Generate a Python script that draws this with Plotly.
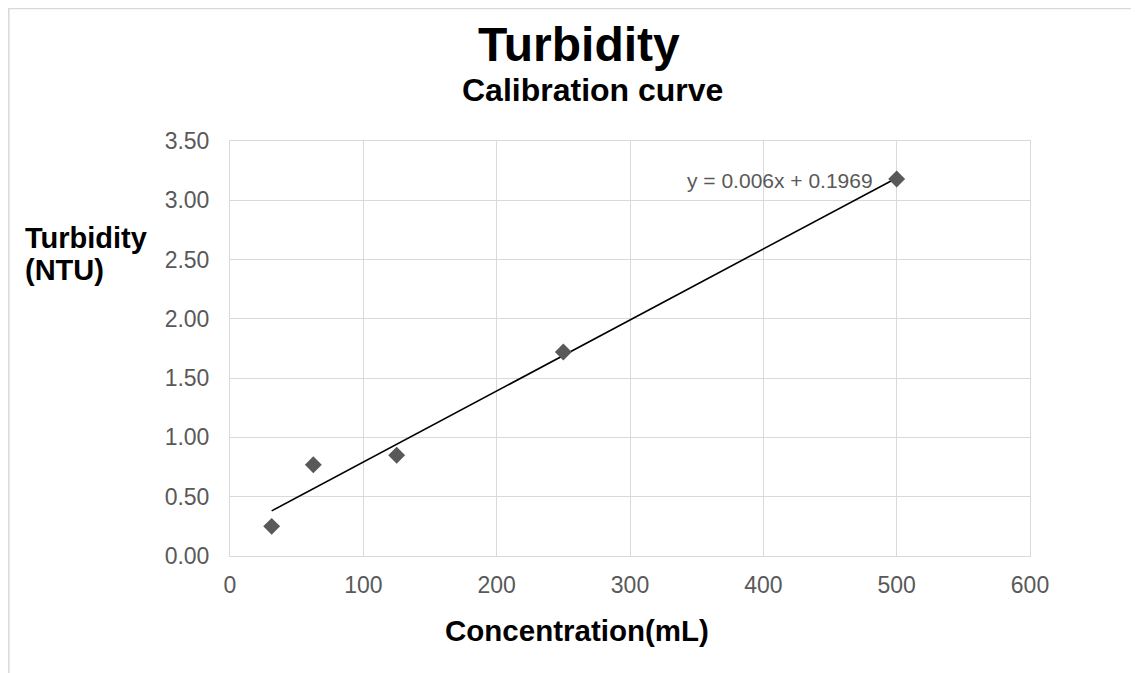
import numpy as np
import plotly.graph_objects as go

concentration = [31.25, 62.5, 125, 250, 500]
turbidity = [0.25, 0.77, 0.85, 1.72, 3.18]
x_ticks = [0, 100, 200, 300, 400, 500, 600]
y_ticks = [0.0, 0.5, 1.0, 1.5, 2.0, 2.5, 3.0, 3.5]
equation_text = "y = 0.006x + 0.1969"

FONT = "Arial, Liberation Sans, sans-serif"

slope, intercept = np.polyfit(concentration, turbidity, 1)
fit_x = [min(concentration), max(concentration)]
fit_y = [slope * v + intercept for v in fit_x]

fig = go.Figure()
fig.add_trace(go.Scatter(
    x=fit_x, y=fit_y, mode="lines",
    line=dict(color="black", width=1.6), hoverinfo="skip", showlegend=False))
fig.add_trace(go.Scatter(
    x=concentration, y=turbidity, mode="markers",
    marker=dict(symbol="diamond", size=13, color="#595959"),
    showlegend=False))

fig.update_layout(
    width=1131, height=665,
    margin=dict(l=222, r=109, t=133, b=117),
    paper_bgcolor="white", plot_bgcolor="white",
    font=dict(family=FONT),
    xaxis=dict(range=[0, 600], tickvals=x_ticks, ticktext=[str(v) for v in x_ticks],
               showgrid=True, gridcolor="#d9d9d9", gridwidth=1,
               showline=True, linecolor="#d9d9d9", mirror=True, zeroline=False,
               ticks="outside", ticklen=8, tickcolor="rgba(0,0,0,0)",
               tickfont=dict(size=23, color="#595959", family=FONT)),
    yaxis=dict(range=[0, 3.5], tickvals=y_ticks, ticktext=["%.2f" % v for v in y_ticks],
               showgrid=True, gridcolor="#d9d9d9", gridwidth=1,
               showline=True, linecolor="#d9d9d9", mirror=True, zeroline=False,
               ticks="outside", ticklen=15, tickcolor="rgba(0,0,0,0)",
               tickfont=dict(size=23, color="#595959", family=FONT)),
    shapes=[dict(type="rect", xref="paper", yref="paper",
                 x0=-0.2765, x1=1.3, y0=-0.5, y1=1.3193,
                 line=dict(color="#d9d9d9", width=1.5), layer="below")],
    annotations=[
        dict(text="<b>Turbidity</b>", xref="paper", yref="paper", x=0.436, y=1.2337,
             xanchor="center", yanchor="middle", showarrow=False,
             font=dict(size=48, color="black", family=FONT)),
        dict(text="<b>Calibration curve</b>", xref="paper", yref="paper", x=0.4525, y=1.1229,
             xanchor="center", yanchor="middle", showarrow=False,
             font=dict(size=32, color="black", family=FONT)),
        dict(text="<b>Concentration(mL)</b>", xref="paper", yref="paper", x=0.434, y=-0.1795,
             xanchor="center", yanchor="middle", showarrow=False,
             font=dict(size=29.5, color="black", family=FONT)),
        dict(text="<b>Turbidity</b>", xref="paper", yref="paper", x=-0.259, y=0.7663,
             xanchor="left", yanchor="middle", showarrow=False,
             font=dict(size=29, color="black", family=FONT)),
        dict(text="<b>(NTU)</b>", xref="paper", yref="paper", x=-0.259, y=0.6892,
             xanchor="left", yanchor="middle", showarrow=False,
             font=dict(size=29, color="black", family=FONT)),
        dict(text=equation_text, xref="x", yref="y", x=483.5, y=3.171,
             xanchor="right", yanchor="middle", showarrow=False,
             font=dict(size=21, color="#595959", family=FONT)),
    ],
)

fig.write_html("out.html")
